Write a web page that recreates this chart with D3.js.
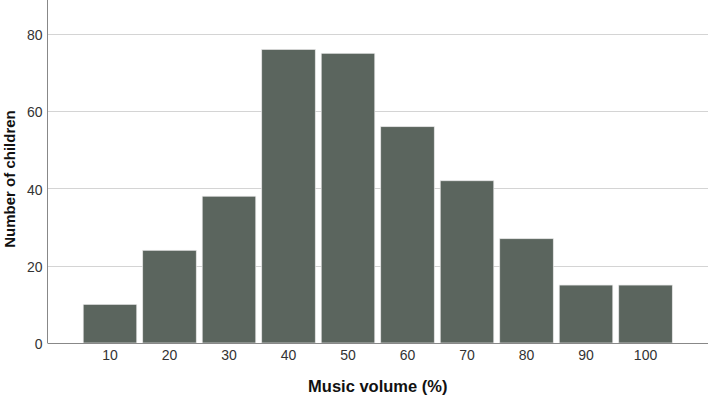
<!DOCTYPE html>
<html lang='en'>
<head>
    <meta charset='UTF-8'>
    <title></title>
    <script src="https://cdn.jsdelivr.net/npm/d3@7"></script>
    <style>
        body { margin: 0; background: #fff; }
        text { font-family: 'Liberation Sans', Arial, sans-serif; }
    </style>
</head>
<body>
    <svg class="bar-svg"></svg>
</body>
<script>
    // data
    const categories = ['10', '20', '30', '40', '50', '60', '70', '80', '90', '100'];
    const counts = [10, 24, 38, 76, 75, 56, 42, 27, 15, 15];
    const yTicks = [0, 20, 40, 60, 80];

    const width = 708,
          height = 396;
    const margin = {top: 0, right: 0, bottom: 53, left: 47.5};

    const svg = d3.select('.bar-svg')
                  .attr('width', width)
                  .attr('height', height);

    const x = d3.scaleBand()
                .domain(categories)
                .range([margin.left, width - margin.right])
                .paddingInner(0.1)
                .paddingOuter(0.6);

    const y = d3.scaleLinear()
                .domain([0, 88.8])
                .range([height - margin.bottom, margin.top]);

    // gridlines
    svg.append('g')
       .selectAll('line')
       .data(yTicks.filter(d => d > 0))
       .enter()
       .append('line')
       .attr('x1', margin.left)
       .attr('x2', width - margin.right)
       .attr('y1', d => Math.round(y(d)) + 0.5)
       .attr('y2', d => Math.round(y(d)) + 0.5)
       .attr('stroke', '#d4d4d4')
       .attr('stroke-width', 1);

    // bars
    svg.append('g')
       .selectAll('rect')
       .data(counts)
       .enter()
       .append('rect')
       .attr('x', (d, i) => x(categories[i]))
       .attr('y', d => y(d))
       .attr('width', x.bandwidth())
       .attr('height', d => y(0) - y(d))
       .attr('fill', '#5b655e')
       .attr('stroke', '#e6e6e6')
       .attr('stroke-width', 0.7);

    // y axis
    const yAxis = svg.append('g')
       .attr('transform', `translate(${margin.left},0)`)
       .call(d3.axisLeft(y).tickValues(yTicks).tickSize(0).tickPadding(5));
    yAxis.select('.domain').remove();
    yAxis.selectAll('text')
         .attr('fill', '#333')
         .attr('dy', '0.4em')
         .style('font-size', '14px');
    svg.append('line')
       .attr('x1', margin.left).attr('x2', margin.left)
       .attr('y1', 0).attr('y2', y(0))
       .attr('stroke', '#888');

    // x axis
    const xAxis = svg.append('g')
       .attr('transform', `translate(0,${y(0)})`)
       .call(d3.axisBottom(x).tickSize(0).tickPadding(7));
    xAxis.select('.domain').remove();
    xAxis.selectAll('text')
         .attr('fill', '#333')
         .style('font-size', '14px');
    svg.append('line')
       .attr('x1', margin.left).attr('x2', width)
       .attr('y1', Math.round(y(0)) + 0.5).attr('y2', Math.round(y(0)) + 0.5)
       .attr('stroke', '#888');

    // axis titles
    svg.append('text')
       .text('Music volume (%)')
       .attr('x', (margin.left + width) / 2)
       .attr('y', 392)
       .style('text-anchor', 'middle')
       .style('font-size', '16.5px')
       .style('font-weight', 'bold')
       .attr('fill', '#111');

    svg.append('text')
       .text('Number of children')
       .attr('transform', 'translate(15,179) rotate(-90)')
       .style('text-anchor', 'middle')
       .style('font-size', '15px')
       .style('font-weight', 'bold')
       .attr('fill', '#111');
</script>
</html>
